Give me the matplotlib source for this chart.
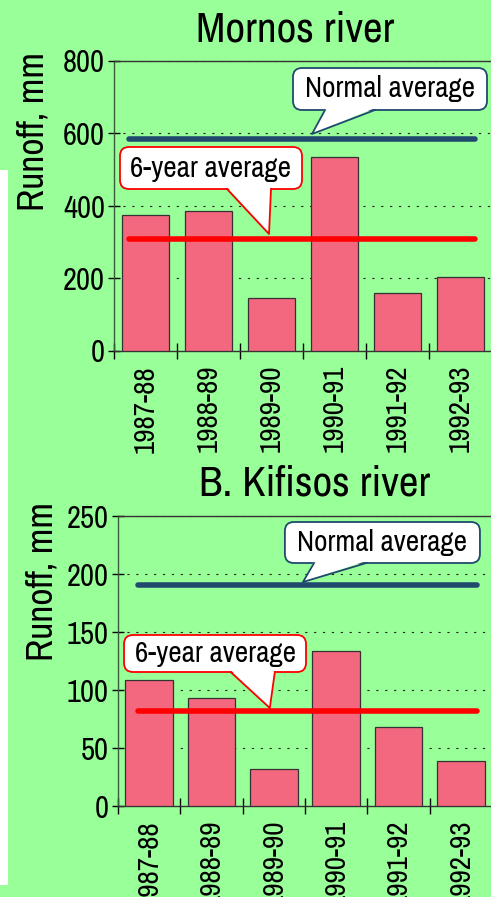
import matplotlib
matplotlib.use('Agg')
import matplotlib.pyplot as plt
from matplotlib.patches import FancyBboxPatch, Polygon, Rectangle
import numpy as np

plt.rcParams['font.family'] = ['Archivo Narrow', 'Liberation Sans', 'DejaVu Sans']

# data
seasons = ['1987-88', '1988-89', '1989-90', '1990-91', '1991-92', '1992-93']
mornos = [375, 386, 146, 535, 160, 204]
mornos_normal = 585
mornos_6yr = 309
kifisos = [108.6, 93, 32, 133.6, 68, 38.8]
kifisos_normal = 190.5
kifisos_6yr = 82

green = '#99ff99'
bar_col = '#f3677f'
blue = '#1f4a6e'
red = '#ff0000'

W, H = 491, 897
fig = plt.figure(figsize=(W / 100, H / 100), dpi=100)
fig.patch.set_facecolor(green)
fig.patches.append(Rectangle((0, 1 - 885 / H), 8 / W, (885 - 170) / H,
                             transform=fig.transFigure, fc='white', ec='none'))


def callout(ax, box, base, tip, ec):
    # box = (x0, y0, x1, y1) in data, base = (bx0, bx1) on box bottom, tip = (x, y)
    x0, y0, x1, y1 = box
    bb = ax.get_window_extent()
    xl, yl = ax.get_xlim(), ax.get_ylim()
    ux = (xl[1] - xl[0]) / bb.width
    uy = (yl[1] - yl[0]) / bb.height
    p = FancyBboxPatch((x0, y0), x1 - x0, y1 - y0,
                       boxstyle='round,pad=0,rounding_size=%f' % (9 * ux),
                       mutation_aspect=uy / ux, fc='white', ec=ec, lw=1.3,
                       zorder=6, clip_on=False)
    ax.add_patch(p)
    ax.add_patch(Polygon([(base[0], y0 + 2 * uy), tip, (base[1], y0 + 2 * uy)],
                         closed=True, fc='white', ec='none', zorder=7, clip_on=False))
    ax.plot([base[0], tip[0], base[1]], [y0, tip[1], y0], color=ec, lw=1.3,
            zorder=8, clip_on=False)


def panel(rect, vals, normal, avg, ymax, step, title, title_xy, ylab_xy,
          nbox, nbase, ntip, abox, abase, atip, line_x):
    ax = fig.add_axes(rect)
    ax.set_facecolor(green)
    x = np.arange(len(seasons))
    ax.bar(x, vals, width=0.76, color=bar_col, edgecolor='#333333', lw=0.9, zorder=3)
    ax.plot(line_x, [normal, normal], color=blue, lw=4, solid_capstyle='round', zorder=4)
    ax.plot(line_x, [avg, avg], color=red, lw=4, solid_capstyle='round', zorder=4)
    ax.set_xlim(-0.5, 5.5)
    ax.set_ylim(0, ymax)
    ax.set_yticks(np.arange(0, ymax + 1, step))
    ax.yaxis.grid(True, color='#222222', ls=(0, (2, 6)), lw=0.8, zorder=1)
    ax.set_xticks(np.arange(-0.5, 6, 1), minor=False)
    ax.set_xticklabels([])
    ax.set_xticks(x, minor=True)
    ax.set_xticklabels(seasons, minor=True, rotation=90, fontsize=21, va='top')
    ax.tick_params(axis='x', which='minor', length=0, pad=10)
    ax.tick_params(axis='x', which='major', direction='inout', length=11, width=1)
    ax.tick_params(axis='y', direction='inout', length=9, width=1, labelsize=22, pad=2)
    for s in ax.spines.values():
        s.set_color('#333333')
        s.set_linewidth(1)
    ax.spines['left'].set_color('#3a5a3a')
    fig.text(title_xy[0] / W, 1 - title_xy[1] / H, title, fontsize=31,
             ha='center', va='center')
    fig.text(ylab_xy[0] / W, 1 - ylab_xy[1] / H, 'Runoff, mm', fontsize=27,
             rotation=90, ha='center', va='center')
    callout(ax, nbox, nbase, ntip, blue)
    callout(ax, abox, abase, atip, red)
    ax.text((nbox[0] + nbox[2]) / 2, (nbox[1] + nbox[3]) / 2, 'Normal average',
            fontsize=21, ha='center', va='center', zorder=9)
    ax.text((abox[0] + abox[2]) / 2, (abox[1] + abox[3]) / 2, '6-year average',
            fontsize=21, ha='center', va='center', zorder=9)
    return ax


# pixel -> data helpers for callout placement
def px(xp, left, cw):
    return (xp - left) / cw - 0.5


def py(yp, bottom, scale):
    return (bottom - yp) / scale


# top panel: left 114, bottom 351, cat width 63, 0.3625 px/unit
L1, B1, C1, S1 = 114, 351, 63, 0.3625
panel([L1 / W, 1 - B1 / H, 378 / W, 290 / H], mornos, mornos_normal, mornos_6yr,
      800, 200, 'Mornos river', (295, 30), (33, 131),
      (px(293, L1, C1), py(110, B1, S1), px(487, L1, C1), py(68, B1, S1)),
      (px(325, L1, C1), px(375, L1, C1)), (px(312, L1, C1), py(134, B1, S1)),
      (px(120, L1, C1), py(189, B1, S1), px(302, L1, C1), py(147, B1, S1)),
      (px(227, L1, C1), px(271, L1, C1)), (px(269, L1, C1), py(234, B1, S1)),
      [-0.26, 5.23])

# bottom panel: left 118, bottom 806, cat width 62, 1.16 px/unit
L2, B2, C2, S2 = 118, 806, 62, 1.16
panel([L2 / W, 1 - B2 / H, 374 / W, 290 / H], kifisos, kifisos_normal, kifisos_6yr,
      250, 50, 'B. Kifisos river', (315, 483), (42, 581),
      (px(284, L2, C2), py(563, B2, S2), px(478, L2, C2), py(522, B2, S2)),
      (px(313, L2, C2), px(365, L2, C2)), (px(302, L2, C2), py(582, B2, S2)),
      (px(124, L2, C2), py(672, B2, S2), px(305, L2, C2), py(635, B2, S2)),
      (px(230, L2, C2), px(274, L2, C2)), (px(269, L2, C2), py(708, B2, S2)),
      [-0.18, 5.26])

fig.savefig('out.png', dpi=100, facecolor=fig.get_facecolor())
